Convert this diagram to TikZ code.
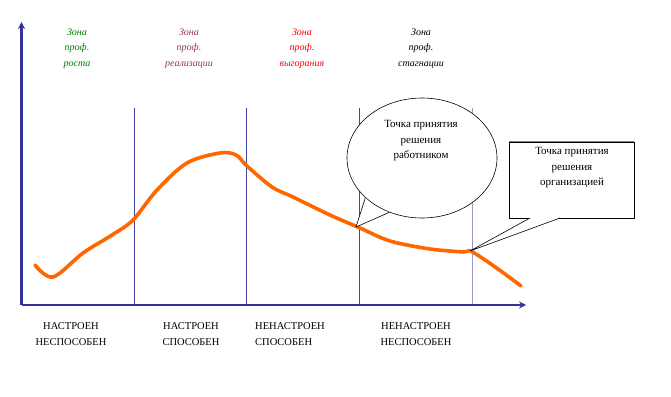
\documentclass[tikz,border=0pt]{standalone}
\usepackage{fontspec}
\setmainfont{Liberation Serif}
\usetikzlibrary{shapes.geometric,arrows.meta}
\definecolor{axisblue}{HTML}{333399}
\definecolor{lineblue}{HTML}{4444A0}
\definecolor{lightblue}{HTML}{9999CC}
\definecolor{curveorange}{HTML}{FF6600}
\definecolor{zgreen}{HTML}{008000}
\definecolor{zpurple}{HTML}{993366}
\definecolor{zred}{HTML}{FF0000}
\tikzset{
  axisline/.style={axisblue,line width=2.6pt,-{Stealth[length=7pt,width=7pt]}},
  divline/.style={lineblue,line width=0.8pt},
  zonelbl/.style={font=\fontsize{10}{15.5}\selectfont\itshape,align=center,anchor=north},
  bottomlbl/.style={font=\fontsize{10.5}{16.5}\selectfont,anchor=north},
  calltext/.style={font=\fontsize{11}{15.5}\selectfont,align=center},
  curve/.style={curveorange,line width=3.6pt,line cap=round,line join=round}
}
\begin{document}
\begin{tikzpicture}[x=1pt,y=-1pt]
\useasboundingbox (0,0) rectangle (671,396);
% divider lines
\coordinate (v1t) at (134,108); \coordinate (v1b) at (134,305);
\coordinate (v2t) at (246,108); \coordinate (v2b) at (246,305);
\coordinate (v3t) at (359,108); \coordinate (v3b) at (359,305);
\coordinate (v4t) at (472,108); \coordinate (v4b) at (472,305);
\draw[divline] (v1t) -- (v1b);
\draw[divline] (v2t) -- (v2b);
\draw[divline] (v3t) -- (v3b);
\draw[lightblue,line width=1pt] (v4t) -- (v4b);
% axes
\coordinate (origin) at (21.5,305);
\coordinate (ytip) at (21.5,22);
\coordinate (xtip) at (526,305);
\draw[axisline] (origin) -- (ytip);
\draw[axisline] (origin) -- (xtip);
% curve
\draw[curve] plot[smooth,tension=0.55] coordinates {
 (35,265) (53,277) (83,253) (112,235) (133,220) (157,190) (187,163) (220,153)
 (236,155) (247,166) (272,187) (293,197) (330,215) (360,228) (390,241) (430,249) (464,252)};
\draw[curve] (464,252) -- (470,250.5) .. controls (480,256) and (500,270) .. (521,286);
% callouts
\coordinate (tip1) at (356,227);
\coordinate (tip2) at (470,251);
\node[ellipse,draw=black,fill=white,line width=0.6pt,minimum width=150pt,minimum height=120pt,inner sep=0pt] (ell) at (422,158) {};
\fill[white] (ell.215) -- (tip1) -- (ell.239) -- ([yshift=-3pt]ell.225) -- cycle;
\draw[line width=0.6pt] (ell.215) -- (tip1) -- (ell.239);
\node[calltext,anchor=north] (elltxt) at (421,117) {Точка принятия\\решения\\работником};
\node[draw=black,fill=white,line width=0.6pt,minimum width=125pt,minimum height=76pt,inner sep=0pt] (rect) at (571.5,180) {};
\draw[gray,line width=1.4pt] (rect.north west) -- (rect.north east);
\coordinate (rb1) at (530,218);
\coordinate (rb2) at (560,218);
\fill[white] (rb1) -- (tip2) -- (rb2) -- cycle;
\draw[line width=0.6pt] (rb1) -- (tip2) -- (rb2);
\node[calltext,anchor=north] (recttxt) at (572,144) {Точка принятия\\решения\\организацией};
% zone labels
\node[zonelbl,text=zgreen] (z1) at (77,25) {Зона\\проф.\\роста};
\node[zonelbl,text=zpurple] (z2) at (189,25) {Зона\\проф.\\реализации};
\node[zonelbl,text=zred] (z3) at (302,25) {Зона\\проф.\\выгорания};
\node[zonelbl,text=black] (z4) at (421,25) {Зона\\проф.\\стагнации};
% bottom labels
\node[bottomlbl,align=center] (b1) at (71,319) {НАСТРОЕН\\НЕСПОСОБЕН};
\node[bottomlbl,align=center] (b2) at (191,319) {НАСТРОЕН\\СПОСОБЕН};
\node[bottomlbl,align=left,anchor=north west,inner xsep=0pt] (b3) at (255,319) {НЕНАСТРОЕН\\СПОСОБЕН};
\node[bottomlbl,align=center] (b4) at (416,319) {НЕНАСТРОЕН\\НЕСПОСОБЕН};
\end{tikzpicture}
\end{document}
